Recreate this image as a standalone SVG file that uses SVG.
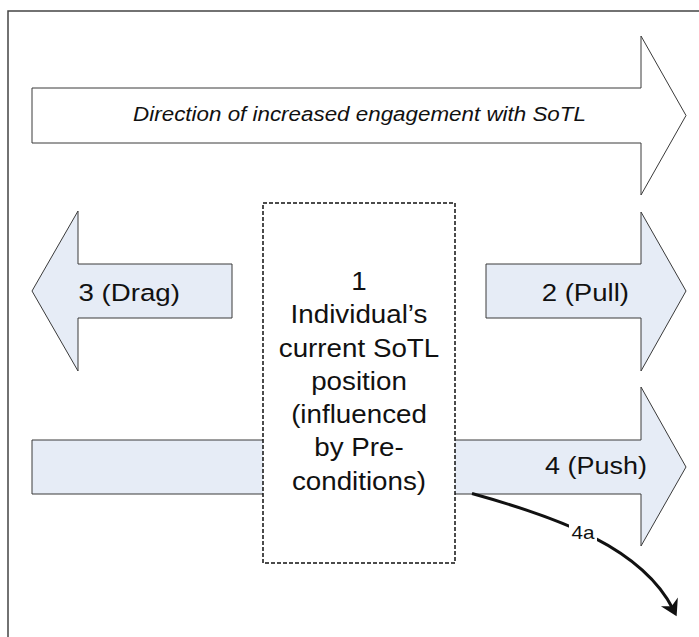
<svg xmlns="http://www.w3.org/2000/svg" width="699" height="637" viewBox="0 0 699 637">
  <style>
    .arrow { stroke: #3a3a3a; stroke-width: 1; stroke-linejoin: miter; }
    .blue { fill: #e6ecf6; }
    .plain { fill: #ffffff; }
    .lbl { font-family: "Liberation Sans", Arial, sans-serif; fill: #111111; text-anchor: middle; }
    .big { font-size: 24.5px; }
    .box { fill: #ffffff; stroke: #111111; stroke-width: 1.5; stroke-dasharray: 4 2; }
    .conn { fill: none; stroke: #111111; stroke-width: 3; }
  </style>
  <defs>
    <marker id="barb" markerUnits="userSpaceOnUse" viewBox="-12 -12 24 24" markerWidth="24" markerHeight="24" refX="0" refY="0" orient="auto" overflow="visible">
      <path d="M 8,0 L -8,-9.5 L -3,0 L -8,9.5 Z" fill="#111111"/>
    </marker>
  </defs>

  <rect width="699" height="637" fill="#ffffff"/>

  <g id="frame">
    <rect x="8" y="11" width="720" height="660" fill="none" stroke="#444444" stroke-width="1.5"/>
  </g>

  <g id="arrow-direction">
    <polygon class="arrow plain" points="32,88 641,88 641,36 686,115.5 641,195 641,143 32,143"/>
    <text class="lbl" font-size="19.5" font-style="italic" transform="translate(359.5,120.5) scale(1.148,1)">Direction of increased engagement with SoTL</text>
  </g>

  <g id="arrow-drag">
    <polygon class="arrow blue" points="32,291 78,211 78,264 232,264 232,318 78,318 78,371"/>
    <text class="lbl big" transform="translate(129.2,301) scale(1.13,1)">3 (Drag)</text>
  </g>

  <g id="arrow-pull">
    <polygon class="arrow blue" points="486,264 641,264 641,212 686,291 641,371 641,318 486,318"/>
    <text class="lbl big" transform="translate(585.3,301) scale(1.125,1)">2 (Pull)</text>
  </g>

  <g id="arrow-push">
    <polygon class="arrow blue" points="32,440 641,440 641,387 686,467 641,546 641,494 32,494"/>
    <text class="lbl big" transform="translate(596,473.5) scale(1.1,1)">4 (Push)</text>
  </g>

  <g id="node-position">
    <rect class="box" x="263" y="203" width="192" height="360"/>
    <g transform="translate(359,0) scale(1.11,1)">
      <text class="lbl" font-size="25" x="0" y="290">1</text>
      <text class="lbl" font-size="25" x="0" y="323.3">Individual’s</text>
      <text class="lbl" font-size="25" x="0" y="356.6">current SoTL</text>
      <text class="lbl" font-size="25" x="0" y="389.9">position</text>
      <text class="lbl" font-size="25" x="0" y="423.2">(influenced</text>
      <text class="lbl" font-size="25" x="0" y="456.5">by Pre-</text>
      <text class="lbl" font-size="25" x="0" y="489.8">conditions)</text>
    </g>
  </g>

  <g id="connectors">
    <path class="conn" d="M 472,493.5 C 560,518 642,548 673,609" marker-end="url(#barb)"/>
    <g id="label-4a">
      <rect x="569" y="523" width="28" height="18" fill="#ffffff"/>
      <text class="lbl" font-size="18" transform="translate(583,538.5) scale(1.15,1)">4a</text>
    </g>
  </g>
</svg>
